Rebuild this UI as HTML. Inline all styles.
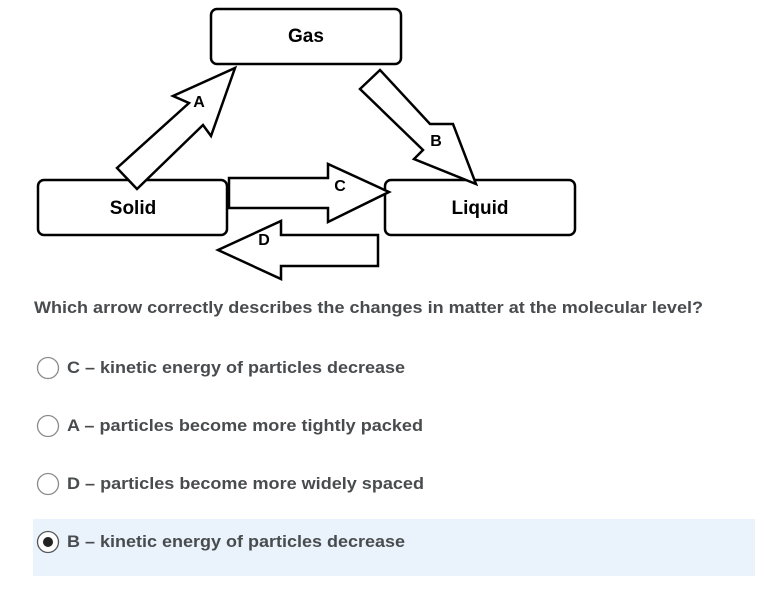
<!DOCTYPE html>
<html><head><meta charset="utf-8"><style>
html,body{margin:0;padding:0;background:#fff;}
svg{display:block}
</style></head><body>
<svg width="780" height="589" viewBox="0 0 780 589" xmlns="http://www.w3.org/2000/svg">
<rect width="780" height="589" fill="#fff"/>
<g fill="#fff" stroke="#000" stroke-width="2.5" stroke-linejoin="miter">
<rect x="211" y="9" width="190" height="55" rx="6"/>
<rect x="38" y="180" width="189" height="55" rx="6"/>
<rect x="385" y="180" width="190" height="55" rx="6"/>
<polygon points="117,168 189,103 173,96 235,68 211,136 203,125 137,189"/>
<polygon points="360,89 380,70 430,124 453,124 476,184 414,159 423,150"/>
<polygon points="229,178 328,178 328,164 389,192 328,222 328,208 229,208"/>
<polygon points="378,235 281,235 281,221 218,250 281,279 281,266 378,266"/>
</g>
<g font-family="Liberation Sans, sans-serif" font-weight="bold" fill="#000" text-anchor="middle">
<text x="306" y="42" font-size="19">Gas</text>
<text x="133" y="214" font-size="19">Solid</text>
<text x="480" y="214" font-size="19">Liquid</text>
<text x="199" y="107" font-size="16">A</text>
<text x="436" y="146" font-size="16">B</text>
<text x="340" y="191" font-size="16">C</text>
<text x="264" y="245" font-size="16">D</text>
</g>
<rect x="33" y="519" width="722" height="57" fill="#eaf3fb"/>
<g font-family="Liberation Sans, sans-serif" font-weight="bold" fill="#494c4e" font-size="17">
<text x="34" y="313" textLength="669" lengthAdjust="spacingAndGlyphs">Which arrow correctly describes the changes in matter at the molecular level?</text>
<text x="67" y="373" textLength="338" lengthAdjust="spacingAndGlyphs">C – kinetic energy of particles decrease</text>
<text x="67" y="431" textLength="356" lengthAdjust="spacingAndGlyphs">A – particles become more tightly packed</text>
<text x="67" y="489" textLength="357" lengthAdjust="spacingAndGlyphs">D – particles become more widely spaced</text>
<text x="67" y="547" textLength="338" lengthAdjust="spacingAndGlyphs">B – kinetic energy of particles decrease</text>
</g>
<g fill="#fff" stroke="#8a8a8a" stroke-width="1.3">
<circle cx="48" cy="368" r="10.5"/>
<circle cx="48" cy="426" r="10.5"/>
<circle cx="48" cy="484" r="10.5"/>
<circle cx="48" cy="542" r="10.5" stroke="#555"/>
</g>
<circle cx="48" cy="542" r="5" fill="#222"/>
</svg>
</body></html>
